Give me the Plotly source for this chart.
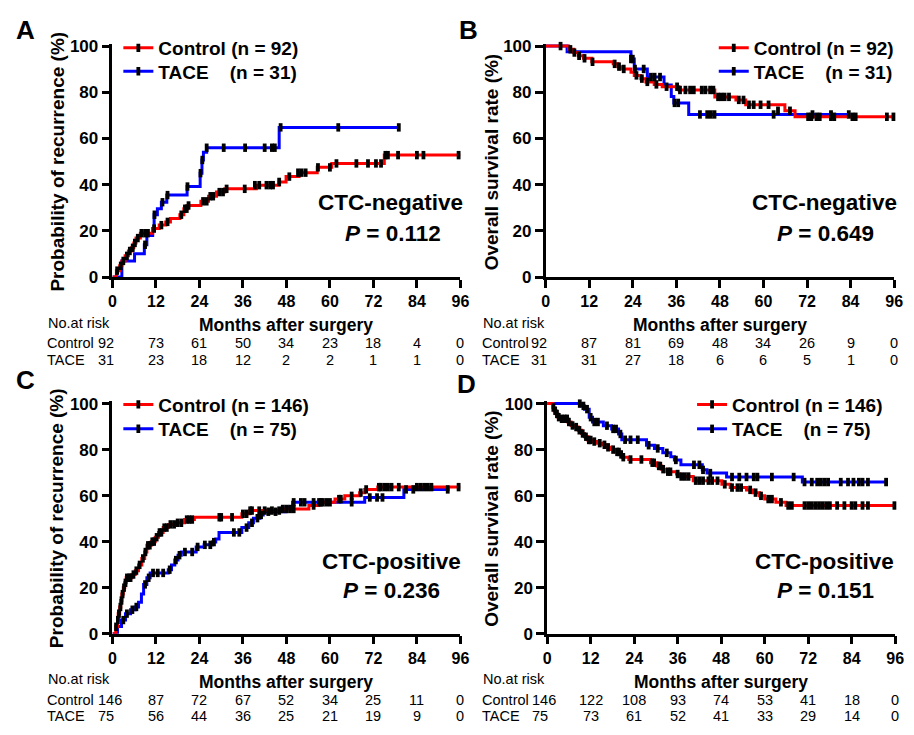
import plotly.graph_objects as go

W, H = 914, 735

# ---------------- data ----------------
# Panel A: recurrence, CTC-negative
a_ctrl_t = [0, 1.1, 2.0, 2.6, 3.5, 4.4, 5.2, 5.9, 6.5, 7.7, 11.1, 12.9, 14.7, 16.0, 18.6, 19.7, 20.8, 24.4, 26.5, 28.7, 31.0, 39.7, 46.0, 47.9, 51.5, 56.5, 60.5, 75.0, 96]
a_ctrl_v = [0, 2.8, 4.9, 7.0, 9.2, 11.3, 12.7, 14.8, 16.9, 19.0, 21.0, 22.5, 23.9, 25.4, 27.0, 29.6, 31.0, 32.8, 35.0, 36.8, 38.2, 39.8, 41.2, 43.5, 45.2, 47.5, 49.2, 52.8, 52.8]
a_ctrl_ct = [1.3, 2.3, 3.0, 4.0, 4.8, 5.6, 6.2, 7.0, 8.0, 9.0, 9.8, 11.5, 13.5, 15.2, 19.0, 20.0, 20.5, 21.0, 25.0, 26.0, 27.0, 27.8, 29.5, 30.5, 31.5, 36.5, 39.3, 40.5, 42.5, 43.5, 44.3, 46.0, 48.8, 51.2, 52.2, 53.3, 56.7, 60.0, 61.8, 67.3, 70.5, 72.7, 74.1, 75.3, 76.0, 78.8, 84.0, 85.8, 95.5]
a_ctrl_cv = [2.8, 4.9, 7.0, 9.2, 11.3, 12.7, 14.8, 16.9, 19.0, 19.0, 19.0, 21.0, 22.5, 23.9, 27.0, 29.6, 29.6, 31.0, 32.8, 32.8, 35.0, 35.0, 36.8, 36.8, 38.2, 38.2, 39.8, 39.8, 39.8, 39.8, 39.8, 41.2, 43.5, 45.2, 45.2, 45.2, 47.5, 47.5, 49.2, 49.2, 49.2, 49.2, 49.2, 52.8, 52.8, 52.8, 52.8, 52.8, 52.8]
a_tace_t = [0, 2.6, 6.1, 8.8, 9.5, 11.1, 11.5, 12.4, 13.5, 15.0, 20.6, 24.2, 24.7, 25.1, 26.0, 46.0, 79.0]
a_tace_v = [0, 7.0, 10.1, 14.0, 18.0, 21.0, 27.0, 29.6, 32.4, 35.5, 39.2, 45.0, 50.7, 54.0, 56.0, 64.8, 64.8]
a_tace_ct = [9.0, 11.6, 13.8, 15.2, 20.7, 24.3, 24.8, 26.0, 30.7, 36.6, 42.0, 44.0, 44.8, 46.4, 62.3, 79.0]
a_tace_cv = [14.0, 27.0, 32.4, 35.5, 39.2, 45.0, 50.7, 56.0, 56.0, 56.0, 56.0, 56.0, 56.0, 64.8, 64.8, 64.8]

# Panel B: overall survival, CTC-negative
b_ctrl_t = [0, 6.3, 7.7, 9.0, 10.4, 12.7, 18.6, 19.9, 21.0, 23.5, 24.4, 26.2, 27.6, 29.9, 32.1, 36.7, 46.6, 52.4, 55.1, 65.9, 68.7, 96]
b_ctrl_v = [100, 98.6, 97.2, 95.8, 94.7, 93.2, 92.3, 91.1, 90.1, 88.7, 87.3, 85.9, 84.5, 83.4, 82.4, 81.0, 78.0, 76.7, 74.6, 72.0, 69.4, 69.4]
b_ctrl_ct = [4.1, 6.8, 7.9, 9.2, 10.7, 12.9, 19.0, 20.2, 21.5, 25.0, 26.5, 28.0, 30.5, 33.3, 36.2, 37.0, 38.5, 39.8, 40.8, 43.0, 44.0, 45.3, 46.2, 47.5, 48.4, 49.3, 50.5, 53.2, 54.5, 56.0, 57.3, 59.2, 61.4, 64.0, 67.3, 72.3, 73.2, 74.6, 75.5, 78.6, 79.5, 84.5, 85.4, 94.0, 95.8]
b_ctrl_cv = [100, 98.6, 97.2, 95.8, 94.7, 93.2, 92.3, 91.1, 90.1, 87.3, 85.9, 84.5, 83.4, 82.4, 82.4, 81.0, 81.0, 81.0, 81.0, 81.0, 81.0, 81.0, 81.0, 78.0, 78.0, 78.0, 78.0, 76.7, 76.7, 74.6, 74.6, 74.6, 74.6, 72.0, 72.0, 69.4, 69.4, 69.4, 69.4, 69.4, 69.4, 69.4, 69.4, 69.4, 69.4]
b_tace_t = [0, 5.9, 23.5, 24.4, 28.0, 32.6, 34.6, 35.3, 39.4, 84.0]
b_tace_v = [100, 97.5, 94.4, 90.1, 86.6, 83.1, 78.2, 75.4, 70.4, 70.4]
b_tace_ct = [23.5, 24.0, 24.6, 27.0, 29.0, 30.0, 31.5, 35.5, 36.5, 42.5, 44.5, 45.5, 46.5, 62.8, 73.5, 78.6, 83.5]
b_tace_cv = [94.4, 94.4, 90.1, 90.1, 86.6, 86.6, 86.6, 75.4, 75.4, 70.4, 70.4, 70.4, 70.4, 70.4, 70.4, 70.4, 70.4]

# Panel C: recurrence, CTC-positive
c_ctrl_t = [0, 0.9, 1.4, 1.6, 2.0, 2.3, 2.6, 3.0, 3.4, 3.8, 5.4, 6.3, 7.2, 8.1, 8.9, 9.5, 10.7, 11.8, 12.7, 14.0, 15.4, 17.6, 19.9, 22.6, 35.7, 37.9, 47.0, 54.2, 56.9, 61.4, 64.1, 68.2, 69.6, 73.2, 96]
c_ctrl_v = [0, 3.0, 5.9, 8.7, 11.6, 14.4, 17.2, 20.0, 22.1, 24.3, 25.7, 27.4, 29.9, 32.7, 35.5, 38.4, 40.0, 41.9, 44.0, 46.1, 47.5, 48.2, 49.6, 50.6, 52.1, 53.5, 54.2, 55.7, 57.1, 58.5, 59.9, 61.3, 62.7, 63.7, 63.7]
c_ctrl_ct = [1.0, 1.5, 1.8, 2.2, 2.5, 2.8, 3.2, 3.6, 4.0, 4.6, 5.0, 5.8, 6.6, 7.5, 8.4, 9.1, 9.8, 10.3, 11.0, 11.5, 12.2, 13.0, 13.5, 14.3, 15.0, 16.0, 17.0, 18.0, 19.0, 20.5, 21.2, 22.0, 29.5, 30.0, 33.0, 36.0, 37.0, 38.0, 38.5, 40.5, 42.0, 44.0, 46.0, 47.0, 48.0, 49.0, 50.0, 55.5, 57.5, 58.0, 59.0, 60.0, 62.5, 63.0, 66.0, 68.5, 70.0, 73.5, 74.0, 75.0, 76.0, 77.0, 79.0, 84.0, 85.0, 86.0, 87.0, 88.0, 95.5]
c_ctrl_cv = [3.0, 5.9, 8.7, 11.6, 14.4, 17.2, 20.0, 22.1, 24.3, 24.3, 24.3, 25.7, 27.4, 29.9, 32.7, 35.5, 38.4, 38.4, 40.0, 40.0, 41.9, 44.0, 44.0, 46.1, 46.1, 47.5, 47.5, 48.2, 48.2, 49.6, 49.6, 49.6, 50.6, 50.6, 50.6, 52.1, 52.1, 53.5, 53.5, 53.5, 53.5, 53.5, 53.5, 54.2, 54.2, 54.2, 54.2, 55.7, 57.1, 57.1, 57.1, 57.1, 58.5, 58.5, 59.9, 61.3, 62.7, 63.7, 63.7, 63.7, 63.7, 63.7, 63.7, 63.7, 63.7, 63.7, 63.7, 63.7, 63.7]
c_tace_t = [0, 1.4, 2.5, 3.6, 5.0, 6.3, 7.2, 8.0, 8.6, 9.5, 10.4, 15.4, 16.3, 17.2, 18.1, 19.0, 23.1, 25.3, 27.6, 28.5, 29.4, 35.7, 37.6, 38.9, 40.7, 41.6, 47.9, 49.7, 69.6, 80.4, 93.0]
c_tace_v = [0, 3.1, 5.9, 8.7, 10.4, 11.6, 13.7, 17.2, 21.4, 24.3, 26.4, 27.8, 29.9, 32.0, 34.1, 35.5, 37.7, 38.6, 39.8, 41.2, 44.0, 46.1, 48.2, 50.2, 51.6, 53.0, 55.0, 57.1, 59.2, 62.7, 62.7]
c_tace_ct = [3.0, 4.0, 5.5, 6.6, 9.0, 10.0, 11.2, 12.5, 14.0, 15.8, 17.5, 18.5, 20.0, 22.0, 23.5, 25.5, 27.0, 28.0, 33.5, 35.0, 37.0, 38.5, 40.0, 41.0, 43.0, 45.0, 50.0, 52.0, 53.0, 55.5, 57.0, 66.0, 71.0, 73.0, 74.5, 81.0, 83.0, 92.5]
c_tace_cv = [5.9, 8.7, 10.4, 11.6, 21.4, 24.3, 26.4, 26.4, 26.4, 27.8, 32.0, 34.1, 35.5, 35.5, 37.7, 38.6, 38.6, 39.8, 44.0, 44.0, 46.1, 48.2, 50.2, 51.6, 53.0, 53.0, 57.1, 57.1, 57.1, 57.1, 57.1, 57.1, 59.2, 59.2, 59.2, 62.7, 62.7, 62.7]

# Panel D: overall survival, CTC-positive
d_ctrl_t = [0, 1.6, 1.9, 2.5, 3.0, 3.5, 5.7, 6.6, 7.5, 8.6, 9.5, 10.3, 11.2, 12.3, 13.9, 15.3, 16.2, 17.7, 18.9, 20.1, 20.7, 22.5, 28.5, 30.3, 31.6, 32.8, 35.7, 36.6, 40.3, 48.2, 50.5, 55.0, 56.8, 58.6, 60.0, 63.1, 65.9, 96]
d_ctrl_v = [100, 98.3, 96.9, 95.5, 94.1, 93.4, 92.0, 90.5, 89.8, 88.4, 87.0, 85.6, 84.2, 83.5, 82.8, 82.1, 81.0, 80.0, 79.0, 77.9, 76.7, 75.7, 74.3, 72.9, 71.5, 70.4, 69.4, 68.3, 66.5, 64.9, 63.5, 62.5, 61.3, 59.9, 58.5, 57.1, 55.7, 55.7]
d_ctrl_ct = [1.7, 2.2, 2.7, 3.2, 4.0, 4.8, 5.5, 6.0, 7.0, 8.0, 8.9, 9.8, 10.7, 11.5, 12.0, 13.0, 14.5, 15.8, 16.8, 18.2, 19.3, 19.8, 20.4, 21.0, 23.0, 26.0, 29.0, 29.5, 30.8, 31.2, 32.0, 33.3, 34.0, 36.0, 37.0, 38.0, 39.0, 41.0, 42.0, 43.0, 44.5, 45.5, 47.0, 49.0, 51.0, 52.5, 53.5, 56.0, 57.5, 59.0, 61.0, 62.0, 64.5, 66.5, 67.5, 71.0, 72.0, 73.0, 74.0, 75.0, 76.0, 77.0, 78.0, 80.0, 82.0, 84.0, 85.0, 87.0, 88.5, 95.8]
d_ctrl_cv = [98.3, 96.9, 95.5, 94.1, 93.4, 93.4, 93.4, 92.0, 90.5, 89.8, 88.4, 87.0, 85.6, 84.2, 84.2, 83.5, 82.8, 82.1, 81.0, 80.0, 79.0, 79.0, 77.9, 76.7, 75.7, 75.7, 74.3, 74.3, 72.9, 72.9, 71.5, 70.4, 70.4, 69.4, 68.3, 68.3, 68.3, 66.5, 66.5, 66.5, 66.5, 66.5, 66.5, 64.9, 63.5, 63.5, 63.5, 62.5, 61.3, 59.9, 58.5, 58.5, 57.1, 55.7, 55.7, 55.7, 55.7, 55.7, 55.7, 55.7, 55.7, 55.7, 55.7, 55.7, 55.7, 55.7, 55.7, 55.7, 55.7, 55.7]
d_tace_t = [0, 9.4, 10.3, 11.6, 12.5, 15.5, 17.8, 19.7, 20.6, 27.4, 29.6, 31.9, 34.1, 35.1, 36.9, 42.8, 44.1, 49.5, 70.4, 93.9]
d_tace_v = [100, 99.0, 97.6, 94.1, 92.0, 90.4, 89.0, 86.8, 84.3, 81.9, 80.5, 78.6, 76.9, 75.5, 73.4, 71.2, 69.8, 68.1, 65.9, 65.9]
d_tace_ct = [9.0, 10.0, 11.0, 12.0, 13.0, 14.0, 16.5, 18.2, 19.0, 20.2, 21.5, 23.0, 25.0, 28.0, 30.5, 33.0, 35.5, 40.5, 42.0, 43.0, 45.0, 51.0, 53.0, 55.0, 57.0, 58.0, 62.0, 68.0, 71.0, 73.0, 74.5, 75.5, 76.5, 77.5, 81.0, 83.0, 84.5, 86.0, 87.0, 88.5, 93.5]
d_tace_cv = [100, 99.0, 97.6, 94.1, 92.0, 92.0, 90.4, 89.0, 89.0, 86.8, 84.3, 84.3, 84.3, 81.9, 80.5, 78.6, 75.5, 73.4, 73.4, 71.2, 69.8, 68.1, 68.1, 68.1, 68.1, 68.1, 68.1, 68.1, 65.9, 65.9, 65.9, 65.9, 65.9, 65.9, 65.9, 65.9, 65.9, 65.9, 65.9, 65.9, 65.9]

# Numbers at risk
risk_times = [0, 12, 24, 36, 48, 60, 72, 84, 96]
a_risk_ctrl = [92, 73, 61, 50, 34, 23, 18, 4, 0]
a_risk_tace = [31, 23, 18, 12, 2, 2, 1, 1, 0]
b_risk_ctrl = [92, 87, 81, 69, 48, 34, 26, 9, 0]
b_risk_tace = [31, 31, 27, 18, 6, 6, 5, 1, 0]
c_risk_ctrl = [146, 87, 72, 67, 52, 34, 25, 11, 0]
c_risk_tace = [75, 56, 44, 36, 25, 21, 19, 9, 0]
d_risk_ctrl = [146, 122, 108, 93, 74, 53, 41, 18, 0]
d_risk_tace = [75, 73, 61, 52, 41, 33, 29, 14, 0]

# Texts
letters = ["A", "B", "C", "D"]
ytitles = ["Probability of recurrence (%)", "Overall survival rate (%)",
           "Probability of recurrence (%)", "Overall survival rate (%)"]
groups = ["CTC-negative", "CTC-negative", "CTC-positive", "CTC-positive"]
pvalues = ["0.112", "0.649", "0.236", "0.151"]
n_ctrl = [92, 92, 146, 146]
n_tace = [31, 31, 75, 75]
yticks = [0, 20, 40, 60, 80, 100]

# ---------------- layout helpers ----------------
FONT = "Liberation Sans, Arial, sans-serif"
RED, BLUE = "#FF0000", "#0000FF"


def px(x):
    return x / W


def py(y):
    return 1 - y / H


# pixel geometry of each panel: (x at 0, x at 96, y at 0, y at 100)
geo = [
    (110, 463, 276.5, 40),
    (549.5, 903, 276.5, 40),
    (110, 463, 641.5, 406),
    (551, 904, 641.5, 406),
]
YTOP = 101  # small headroom so lines at 100 are not clipped

panels = [
    (a_ctrl_t, a_ctrl_v, a_ctrl_ct, a_ctrl_cv, a_tace_t, a_tace_v, a_tace_ct, a_tace_cv, a_risk_ctrl, a_risk_tace),
    (b_ctrl_t, b_ctrl_v, b_ctrl_ct, b_ctrl_cv, b_tace_t, b_tace_v, b_tace_ct, b_tace_cv, b_risk_ctrl, b_risk_tace),
    (c_ctrl_t, c_ctrl_v, c_ctrl_ct, c_ctrl_cv, c_tace_t, c_tace_v, c_tace_ct, c_tace_cv, c_risk_ctrl, c_risk_tace),
    (d_ctrl_t, d_ctrl_v, d_ctrl_ct, d_ctrl_cv, d_tace_t, d_tace_v, d_tace_ct, d_tace_cv, d_risk_ctrl, d_risk_tace),
]

fig = go.Figure()
layout = {}
annotations = []

# legend placement (px): line start x, centre y of each row
leg_pos = [(125, 40, 64), (729, 40, 64), (125, 405, 430), (707, 405, 430)]
# text block centres
txt_pos = [(392, 200, 395, 232), (832, 200, 833, 232), (393, 568, 393, 597), (832, 568, 833, 597)]
letter_pos = [(22, 24), (471, 24), (22, 382), (469, 386)]
ytitle_pos = [(54, 158), (494, 158), (54, 523), (495, 523)]
risk_left = [42, 483, 42, 483]
risk_dy = [0, 0, 365, 365]
RISK_SIZE = 14.5

censor_marker = dict(symbol="line-ns", size=6, color="black", line=dict(width=3.8, color="black"))

legend_no = 1
for i, p in enumerate(panels):
    (ct, cv, cct, ccv, tt, tv, tct, tcv, rc, rt) = p
    k = "" if i == 0 else str(i + 1)
    xa, ya = "x" + k, "y" + k
    x0, x96, y0, y100 = geo[i]
    per = (y0 - y100) / 100.0
    ytop_px = y0 - YTOP * per
    layout["xaxis" + k] = dict(
        domain=[px(x0), px(x96)], range=[0, 96], tickvals=risk_times,
        ticks="outside", ticklen=8, tickwidth=2.5, tickcolor="black",
        showline=True, linewidth=2.5, linecolor="black", showgrid=False, zeroline=False,
        tickfont=dict(family=FONT, size=16, color="black", weight="bold"),
        anchor=ya, fixedrange=True,
    )
    layout["yaxis" + k] = dict(
        domain=[py(y0), py(ytop_px)], range=[0, YTOP], tickvals=yticks,
        ticks="outside", ticklen=8, tickwidth=2.5, tickcolor="black",
        showline=True, linewidth=2.5, linecolor="black", showgrid=False, zeroline=False,
        tickfont=dict(family=FONT, size=17, color="black", weight="bold"),
        anchor=xa, fixedrange=True,
    )
    # curves
    fig.add_trace(go.Scatter(x=tt, y=tv, mode="lines", line=dict(color=BLUE, width=3, shape="hv"),
                             xaxis=xa, yaxis=ya, showlegend=False, hoverinfo="skip"))
    fig.add_trace(go.Scatter(x=ct, y=cv, mode="lines", line=dict(color=RED, width=3, shape="hv"),
                             xaxis=xa, yaxis=ya, showlegend=False, hoverinfo="skip"))
    fig.add_trace(go.Scatter(x=tct, y=tcv, mode="markers", marker=censor_marker, cliponaxis=False,
                             xaxis=xa, yaxis=ya, showlegend=False, hoverinfo="skip"))
    fig.add_trace(go.Scatter(x=cct, y=ccv, mode="markers", marker=censor_marker, cliponaxis=False,
                             xaxis=xa, yaxis=ya, showlegend=False, hoverinfo="skip"))
    # legend entries: one single-item legend per row for tight spacing
    lx, ly1, ly2 = leg_pos[i]
    for name, color, ly in ((f"Control (n = {n_ctrl[i]})", RED, ly1),
                            ("TACE\u00a0\u00a0\u00a0\u00a0(n = %d)" % n_tace[i], BLUE, ly2)):
        leg = "legend" if legend_no == 1 else "legend%d" % legend_no
        fig.add_trace(go.Scatter(x=[None], y=[None], mode="lines+markers", name=name,
                                 line=dict(color=color, width=3), marker=censor_marker,
                                 xaxis=xa, yaxis=ya, legend=leg))
        layout[leg] = dict(x=px(lx - 9), y=py(ly - 17.5), xanchor="left", yanchor="top",
                           font=dict(family=FONT, size=19, color="black", weight="bold"),
                           bgcolor="rgba(0,0,0,0)", borderwidth=0, itemwidth=30,
                           tracegroupgap=0)
        legend_no += 1

    # panel letter
    annotations.append(dict(text=letters[i], x=px(letter_pos[i][0]), y=py(letter_pos[i][1]),
                            xref="paper", yref="paper", showarrow=False, xanchor="center", yanchor="middle",
                            font=dict(family=FONT, size=26, color="black", weight="bold")))
    # y title
    annotations.append(dict(text=ytitles[i], x=px(ytitle_pos[i][0]), y=py(ytitle_pos[i][1]),
                            xref="paper", yref="paper", showarrow=False, textangle=-90,
                            xanchor="center", yanchor="middle",
                            font=dict(family=FONT, size=19, color="black", weight="bold")))
    # group label and P value
    gx, gy, pxx, pyy = txt_pos[i]
    annotations.append(dict(text=groups[i], x=px(gx), y=py(gy), xref="paper", yref="paper",
                            showarrow=False, xanchor="center", yanchor="middle",
                            font=dict(family=FONT, size=22.5, color="black", weight="bold")))
    annotations.append(dict(text="<i>P</i> = " + pvalues[i], x=px(pxx), y=py(pyy), xref="paper", yref="paper",
                            showarrow=False, xanchor="center", yanchor="middle",
                            font=dict(family=FONT, size=22.5, color="black", weight="bold")))
    # risk table
    dy = risk_dy[i]
    rl = risk_left[i]
    annotations.append(dict(text="No.at risk", x=px(rl + 1), y=py(323 + dy), xref="paper", yref="paper",
                            showarrow=False, xanchor="left", yanchor="middle",
                            font=dict(family=FONT, size=RISK_SIZE, color="black")))
    annotations.append(dict(text="Months after surgery", x=px((x0 + x96) / 2), y=py(326 + dy),
                            xref="paper", yref="paper", showarrow=False, xanchor="center", yanchor="middle",
                            font=dict(family=FONT, size=17.5, color="black", weight="bold")))
    for lab, vals, ry in (("Control", rc, 344), ("TACE", rt, 361)):
        annotations.append(dict(text=lab, x=px(rl), y=py(ry + dy), xref="paper", yref="paper",
                                showarrow=False, xanchor="left", yanchor="middle",
                                font=dict(family=FONT, size=RISK_SIZE, color="black")))
        for j, (t, v) in enumerate(zip(risk_times, vals)):
            if j == 0:
                annotations.append(dict(text=str(v), x=px(x0 - 17), y=py(ry + dy),
                                        xref="paper", yref="paper", showarrow=False,
                                        xanchor="left", yanchor="middle",
                                        font=dict(family=FONT, size=RISK_SIZE, color="black")))
            else:
                annotations.append(dict(text=str(v), x=t, y=py(ry + dy),
                                        xref=xa, yref="paper", showarrow=False,
                                        xanchor="center", yanchor="middle",
                                        font=dict(family=FONT, size=RISK_SIZE, color="black")))

fig.update_layout(
    autosize=True,
    margin=dict(l=0, r=0, t=0, b=0, pad=0),
    paper_bgcolor="white", plot_bgcolor="white",
    annotations=annotations,
    **layout,
)

fig.write_html(
    "out.html",
    config={"displayModeBar": False, "responsive": True},
    default_width="100vw",
    default_height="100vh",
    post_script="document.body.style.margin='0';document.body.style.overflow='hidden';",
)
